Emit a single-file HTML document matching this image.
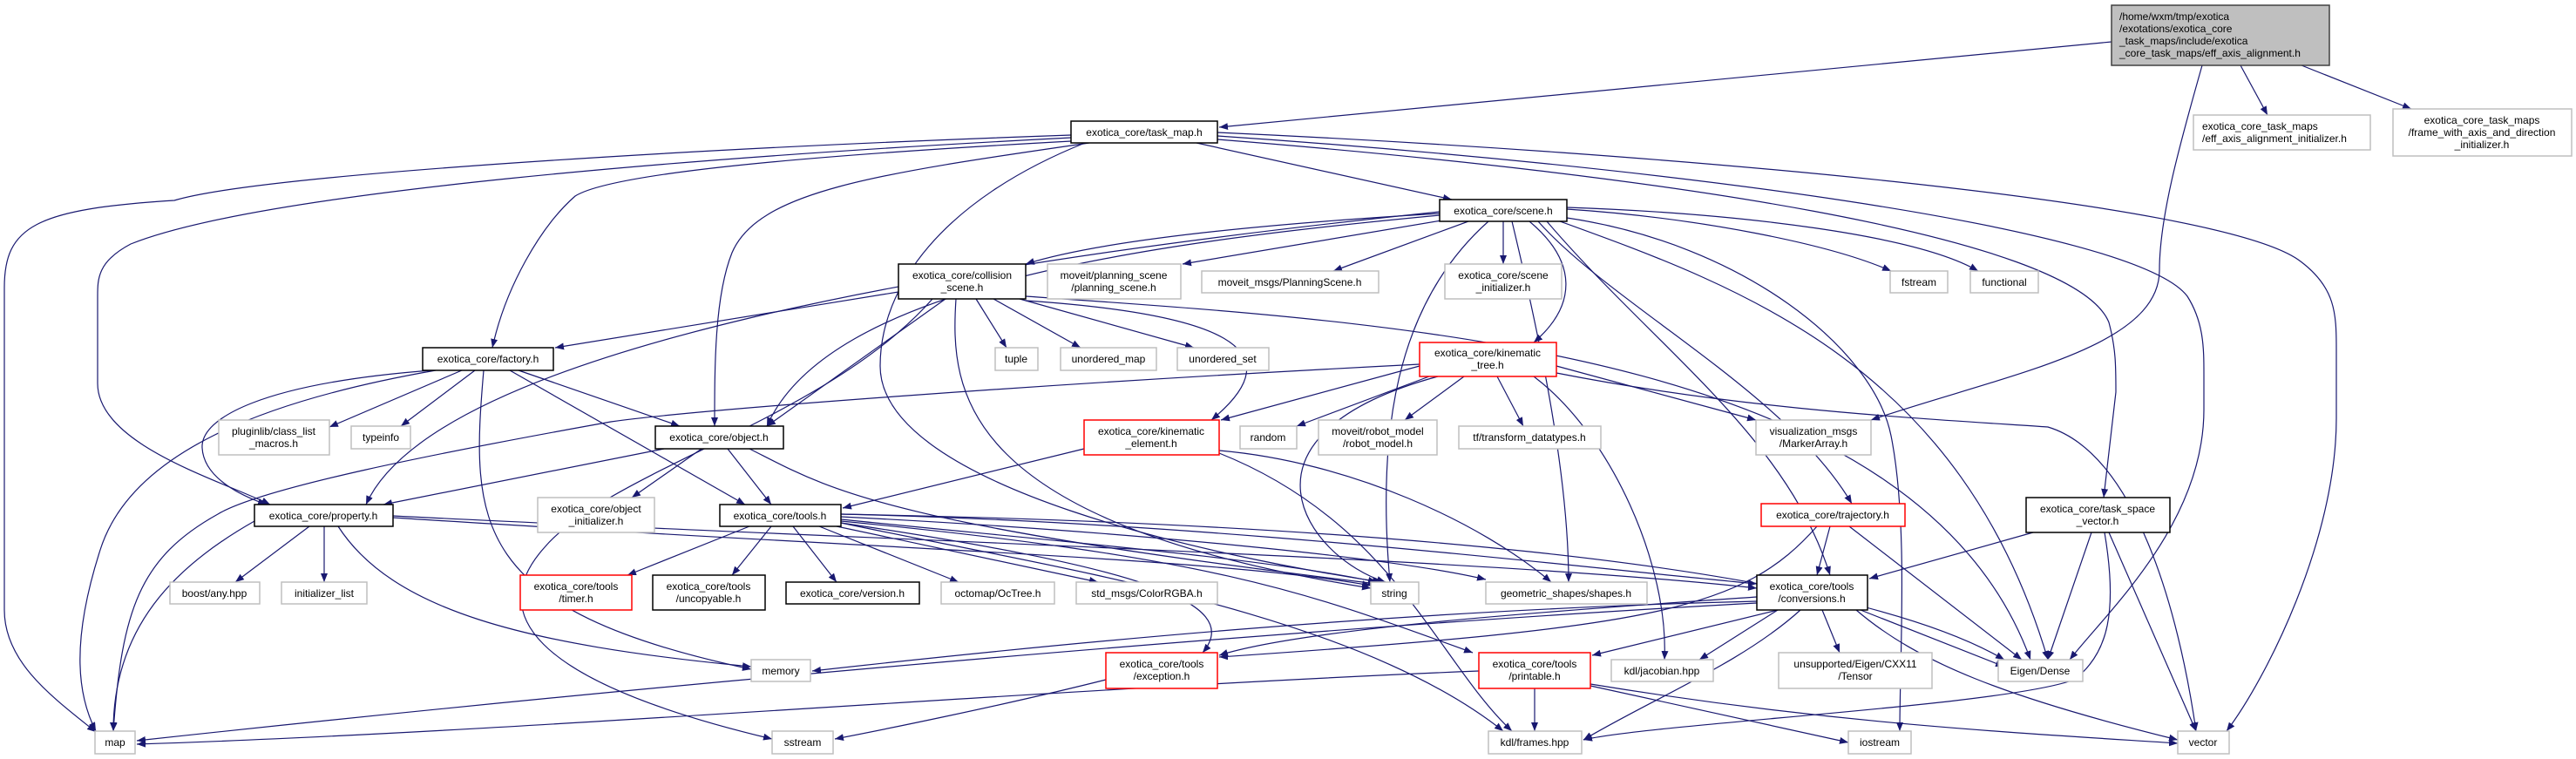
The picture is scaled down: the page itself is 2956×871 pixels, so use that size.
<!DOCTYPE html>
<html><head><meta charset="utf-8"><style>
html,body{margin:0;padding:0;background:#fff;}
svg{display:block;}
text{font-family:"Liberation Sans",sans-serif;font-size:12px;fill:#000;}
.e{fill:none;stroke:#191970;stroke-width:1.2;marker-end:url(#a);}
.g{fill:#fff;stroke:#bfbfbf;stroke-width:1.5;}
.b{fill:#fff;stroke:#000;stroke-width:1.5;}
.r{fill:#fff;stroke:#ff0000;stroke-width:1.5;}
</style></head><body>
<svg width="2956" height="871" viewBox="0 0 2956 871" xmlns="http://www.w3.org/2000/svg">
<defs><marker id="a" markerUnits="userSpaceOnUse" markerWidth="11" markerHeight="8" refX="10" refY="4" orient="auto"><path d="M0,0 L10,4 L0,8 z" fill="#191970"/></marker></defs>
<g>
<path class="e" d="M2423 48 L1399 146"/>
<path class="e" d="M2571 75 L2602 132"/>
<path class="e" d="M2641 75 L2767 125"/>
<path class="e" d="M2527 75 C2500 170,2478 250,2478 310 C2478 400,2300 430,2147 482"/>
<path class="e" d="M1229 155 C800 170,300 200,200 230 C40 240,5 260,5 330 L5 700 C5 760,60 800,110 840"/>
<path class="e" d="M1229 158 C800 180,300 220,150 280 C112 300,112 320,112 340 L112 440 C112 510,250 550,310 579"/>
<path class="e" d="M1229 162 C900 180,700 200,660 225 C620 260,580 330,565 399"/>
<path class="e" d="M1250 164 C1000 200,870 220,840 290 C820 340,820 420,820 489"/>
<path class="e" d="M1245 164 C1080 230,1010 330,1010 420 C1010 560,1400 640,1585 668"/>
<path class="e" d="M1373 164 L1666 229"/>
<path class="e" d="M1397 152 C1900 175,2550 230,2640 300 C2680 330,2681 360,2681 400 L2681 480 C2681 620,2600 780,2555 839"/>
<path class="e" d="M1397 156 C1900 190,2450 260,2510 340 C2529 370,2529 400,2529 430 L2529 470 C2529 600,2420 700,2375 757"/>
<path class="e" d="M1397 160 C1900 200,2380 270,2420 370 C2428 400,2428 420,2428 450 L2414 571"/>
<path class="e" d="M1652 245 C1400 260,1250 280,1177 303"/>
<path class="e" d="M1660 252 L1357 303"/>
<path class="e" d="M1685 254 L1530 311"/>
<path class="e" d="M1725 254 L1725 303"/>
<path class="e" d="M1755 254 C1810 300,1810 350,1760 393"/>
<path class="e" d="M1798 240 C1950 250,2100 280,2170 311"/>
<path class="e" d="M1798 238 C2000 245,2200 270,2270 311"/>
<path class="e" d="M1652 243 C1100 300,500 400,420 579"/>
<path class="e" d="M1652 247 C1300 280,950 330,880 489"/>
<path class="e" d="M1708 254 C1600 350,1580 500,1595 668"/>
<path class="e" d="M1735 254 C1770 400,1800 550,1800 668"/>
<path class="e" d="M1765 254 C1850 350,2050 450,2125 578"/>
<path class="e" d="M1775 254 C1900 400,2050 500,2100 660"/>
<path class="e" d="M1798 250 C2000 280,2150 400,2170 500 C2190 600,2180 750,2180 839"/>
<path class="e" d="M1790 254 C2000 330,2250 420,2350 757"/>
<path class="e" d="M1031 335 L637 399"/>
<path class="e" d="M1085 343 L880 489"/>
<path class="e" d="M1120 343 L1155 399"/>
<path class="e" d="M1140 343 L1240 399"/>
<path class="e" d="M1170 343 L1370 399"/>
<path class="e" d="M1177 345 C1400 360,1490 400,1390 482"/>
<path class="e" d="M1097 343 C1090 450,1100 600,1573 675"/>
<path class="e" d="M1070 343 C950 480,700 540,625 628 C560 700,600 780,886 848"/>
<path class="e" d="M1177 340 C1600 370,2200 400,2330 757"/>
<path class="e" d="M1629 420 L1401 482"/>
<path class="e" d="M1640 432 L1488 489"/>
<path class="e" d="M1680 432 L1612 482"/>
<path class="e" d="M1718 432 L1748 489"/>
<path class="e" d="M1786 420 L2015 482"/>
<path class="e" d="M1629 418 C1200 440,800 470,701 484 C500 520,300 560,250 590 C160 640,140 700,130 839"/>
<path class="e" d="M1650 432 C1400 500,1500 640,1590 668"/>
<path class="e" d="M1760 432 C1850 500,1915 650,1910 757"/>
<path class="e" d="M1786 428 C2000 470,2200 480,2350 490 C2450 520,2500 700,2520 839"/>
<path class="e" d="M530 425 L378 490"/>
<path class="e" d="M545 425 L460 489"/>
<path class="e" d="M595 425 L780 489"/>
<path class="e" d="M585 425 L855 579"/>
<path class="e" d="M500 425 C300 460,150 520,115 631 C80 740,90 800,110 839"/>
<path class="e" d="M555 425 C540 600,540 700,862 768"/>
<path class="e" d="M495 425 C300 440,230 480,232 514 C234 550,280 570,306 579"/>
<path class="e" d="M762 515 L440 579"/>
<path class="e" d="M805 515 L725 571"/>
<path class="e" d="M835 515 L885 579"/>
<path class="e" d="M860 515 C950 560,1000 600,1580 670"/>
<path class="e" d="M355 604 L270 668"/>
<path class="e" d="M372 604 L372 668"/>
<path class="e" d="M388 604 C450 700,600 740,862 765"/>
<path class="e" d="M292 598 C200 650,130 720,130 839"/>
<path class="e" d="M451 592 C1000 620,1700 640,2016 675"/>
<path class="e" d="M451 594 C1000 630,1400 640,1573 672"/>
<path class="e" d="M860 604 L720 660"/>
<path class="e" d="M885 604 L840 660"/>
<path class="e" d="M910 604 L960 668"/>
<path class="e" d="M940 604 L1100 668"/>
<path class="e" d="M960 604 L1260 668"/>
<path class="e" d="M965 596 C1200 620,1450 640,1580 668"/>
<path class="e" d="M965 593 C1300 610,1600 640,1705 665"/>
<path class="e" d="M965 590 C1400 600,1800 650,2016 670"/>
<path class="e" d="M965 600 C1300 650,1430 690,1380 749"/>
<path class="e" d="M965 598 C1400 640,1500 680,1690 749"/>
<path class="e" d="M965 600 C1200 650,1550 700,1725 839"/>
<path class="e" d="M965 590 C1500 600,2100 640,2300 757"/>
<path class="e" d="M1244 515 L967 583"/>
<path class="e" d="M1399 517 C1550 530,1700 600,1780 668"/>
<path class="e" d="M1399 520 C1600 600,1650 760,1735 839"/>
<path class="e" d="M2100 604 L2085 660"/>
<path class="e" d="M2122 604 L2320 757"/>
<path class="e" d="M2085 604 C2000 700,1900 720,1399 754"/>
<path class="e" d="M2333 611 L2145 664"/>
<path class="e" d="M2400 611 L2350 757"/>
<path class="e" d="M2420 611 L2520 839"/>
<path class="e" d="M2415 611 C2430 700,2420 750,2380 780 C2300 810,1900 830,1817 849"/>
<path class="e" d="M2016 690 C1600 700,1200 740,932 770"/>
<path class="e" d="M2040 700 L1950 757"/>
<path class="e" d="M2091 700 L2111 749"/>
<path class="e" d="M2135 700 L2300 765"/>
<path class="e" d="M2130 700 C2200 760,2300 800,2499 849"/>
<path class="e" d="M2016 685 C1800 700,1500 720,1399 752"/>
<path class="e" d="M2040 700 L1827 752"/>
<path class="e" d="M2016 692 C1500 720,800 780,157 850"/>
<path class="e" d="M2066 700 C2000 760,1900 800,1817 849"/>
<path class="e" d="M1269 780 C1150 810,1000 840,958 848"/>
<path class="e" d="M1697 770 C1200 790,600 840,157 854"/>
<path class="e" d="M1761 790 L1761 839"/>
<path class="e" d="M1825 787 L2121 852"/>
<path class="e" d="M1825 785 C2100 830,2300 840,2499 853"/>
</g>
<g>
<rect x="2423" y="6" width="250" height="69" fill="#bfbfbf" stroke="#404040" stroke-width="1.5"/>
<text x="2432" y="23">/home/wxm/tmp/exotica</text>
<text x="2432" y="37">/exotations/exotica_core</text>
<text x="2432" y="51">_task_maps/include/exotica</text>
<text x="2432" y="65">_core_task_maps/eff_axis_alignment.h</text>
<rect class="g" x="2517" y="132" width="203" height="40"/>
<text x="2527" y="149">exotica_core_task_maps</text>
<text x="2527" y="163">/eff_axis_alignment_initializer.h</text>
<rect class="g" x="2746" y="125" width="205" height="54"/>
<text x="2848" y="142" text-anchor="middle">exotica_core_task_maps</text>
<text x="2848" y="156" text-anchor="middle">/frame_with_axis_and_direction</text>
<text x="2848" y="170" text-anchor="middle">_initializer.h</text>
</g>
<g text-anchor="middle">
<rect class="g" x="2169" y="311" width="66" height="25"/><text x="2202" y="328">fstream</text>
<rect class="g" x="2261" y="311" width="78" height="25"/><text x="2300" y="328">functional</text>
<rect class="b" x="1229" y="139" width="168" height="25"/><text x="1313" y="156">exotica_core/task_map.h</text>
<rect class="b" x="1652" y="229" width="146" height="25"/><text x="1725" y="246">exotica_core/scene.h</text>
<rect class="b" x="1031" y="303" width="146" height="40"/><text x="1104" y="320">exotica_core/collision</text><text x="1104" y="334">_scene.h</text>
<rect class="g" x="1202" y="303" width="153" height="40"/><text x="1278" y="320">moveit/planning_scene</text><text x="1278" y="334">/planning_scene.h</text>
<rect class="g" x="1379" y="311" width="203" height="25"/><text x="1480" y="328">moveit_msgs/PlanningScene.h</text>
<rect class="g" x="1658" y="303" width="134" height="40"/><text x="1725" y="320">exotica_core/scene</text><text x="1725" y="334">_initializer.h</text>
<rect class="g" x="1142" y="399" width="49" height="26"/><text x="1166" y="416">tuple</text>
<rect class="g" x="1217" y="399" width="110" height="26"/><text x="1272" y="416">unordered_map</text>
<rect class="g" x="1351" y="399" width="105" height="26"/><text x="1403" y="416">unordered_set</text>
<rect class="r" x="1629" y="393" width="157" height="39"/><text x="1707" y="409">exotica_core/kinematic</text><text x="1707" y="423">_tree.h</text>
<rect class="b" x="485" y="399" width="150" height="26"/><text x="560" y="416">exotica_core/factory.h</text>
<rect class="g" x="251" y="482" width="127" height="40"/><text x="314" y="499">pluginlib/class_list</text><text x="314" y="513">_macros.h</text>
<rect class="g" x="403" y="489" width="68" height="26"/><text x="437" y="506">typeinfo</text>
<rect class="b" x="752" y="489" width="147" height="26"/><text x="825" y="506">exotica_core/object.h</text>
<rect class="r" x="1244" y="482" width="155" height="40"/><text x="1321" y="499">exotica_core/kinematic</text><text x="1321" y="513">_element.h</text>
<rect class="g" x="1423" y="489" width="65" height="26"/><text x="1455" y="506">random</text>
<rect class="g" x="1513" y="482" width="136" height="40"/><text x="1581" y="499">moveit/robot_model</text><text x="1581" y="513">/robot_model.h</text>
<rect class="g" x="1674" y="489" width="163" height="26"/><text x="1755" y="506">tf/transform_datatypes.h</text>
<rect class="g" x="2015" y="482" width="132" height="40"/><text x="2081" y="499">visualization_msgs</text><text x="2081" y="513">/MarkerArray.h</text>
<rect class="b" x="292" y="579" width="159" height="25"/><text x="371" y="596">exotica_core/property.h</text>
<rect class="g" x="617" y="571" width="134" height="40"/><text x="684" y="588">exotica_core/object</text><text x="684" y="602">_initializer.h</text>
<rect class="b" x="826" y="579" width="139" height="25"/><text x="895" y="596">exotica_core/tools.h</text>
<rect class="r" x="2021" y="578" width="165" height="26"/><text x="2103" y="595">exotica_core/trajectory.h</text>
<rect class="b" x="2325" y="571" width="165" height="40"/><text x="2407" y="588">exotica_core/task_space</text><text x="2407" y="602">_vector.h</text>
<rect class="g" x="195" y="668" width="103" height="25"/><text x="246" y="685">boost/any.hpp</text>
<rect class="g" x="323" y="668" width="98" height="25"/><text x="372" y="685">initializer_list</text>
<rect class="r" x="597" y="660" width="128" height="40"/><text x="661" y="677">exotica_core/tools</text><text x="661" y="691">/timer.h</text>
<rect class="b" x="749" y="660" width="129" height="40"/><text x="813" y="677">exotica_core/tools</text><text x="813" y="691">/uncopyable.h</text>
<rect class="b" x="902" y="668" width="153" height="25"/><text x="978" y="685">exotica_core/version.h</text>
<rect class="g" x="1080" y="668" width="130" height="25"/><text x="1145" y="685">octomap/OcTree.h</text>
<rect class="g" x="1235" y="668" width="162" height="25"/><text x="1316" y="685">std_msgs/ColorRGBA.h</text>
<rect class="g" x="1573" y="668" width="55" height="25"/><text x="1600" y="685">string</text>
<rect class="g" x="1705" y="668" width="185" height="25"/><text x="1797" y="685">geometric_shapes/shapes.h</text>
<rect class="b" x="2016" y="660" width="127" height="40"/><text x="2079" y="677">exotica_core/tools</text><text x="2079" y="691">/conversions.h</text>
<rect class="r" x="1269" y="749" width="128" height="41"/><text x="1333" y="766">exotica_core/tools</text><text x="1333" y="780">/exception.h</text>
<rect class="r" x="1697" y="749" width="128" height="41"/><text x="1761" y="766">exotica_core/tools</text><text x="1761" y="780">/printable.h</text>
<rect class="g" x="1849" y="757" width="117" height="25"/><text x="1907" y="774">kdl/jacobian.hpp</text>
<rect class="g" x="2041" y="749" width="176" height="41"/><text x="2129" y="766">unsupported/Eigen/CXX11</text><text x="2129" y="780">/Tensor</text>
<rect class="g" x="2293" y="757" width="97" height="25"/><text x="2341" y="774">Eigen/Dense</text>
<rect class="g" x="862" y="757" width="68" height="25"/><text x="896" y="774">memory</text>
<rect class="g" x="109" y="839" width="46" height="26"/><text x="132" y="856">map</text>
<rect class="g" x="886" y="839" width="70" height="26"/><text x="921" y="856">sstream</text>
<rect class="g" x="1708" y="839" width="107" height="26"/><text x="1761" y="856">kdl/frames.hpp</text>
<rect class="g" x="2121" y="839" width="72" height="26"/><text x="2157" y="856">iostream</text>
<rect class="g" x="2499" y="839" width="59" height="26"/><text x="2528" y="856">vector</text>
</g>
</svg>
</body></html>
